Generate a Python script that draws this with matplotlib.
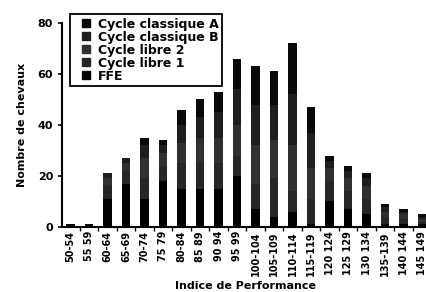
import matplotlib.pyplot as plt
from matplotlib.lines import Line2D
import numpy as np

# classes d'indice de performance
classes = ["50-54", "55 59", "60-64", "65-69", "70-74", "75 79", "80-84", "85 89",
           "90 94", "95 99", "100-104", "105-109", "110-114", "115-119", "120 124",
           "125 129", "130 134", "135-139", "140 144", "145 149"]

# nombre de chevaux par serie (bas -> haut)
ffe = [1, 1, 11, 17, 11, 18, 15, 15, 15, 20, 7, 4, 6, 1, 10, 7, 5, 1, 1, 1]
libre1 = [0, 0, 5, 5, 8, 6, 10, 10, 10, 8, 10, 15, 8, 10, 8, 7, 6, 3, 2, 1]
libre2 = [0, 0, 3, 3, 8, 5, 8, 10, 10, 12, 15, 15, 18, 12, 5, 5, 5, 2, 2, 1]
classiqueB = [0, 0, 2, 2, 5, 3, 7, 8, 10, 14, 16, 14, 20, 14, 3, 3, 3, 2, 1, 1]
classiqueA = [0, 0, 0, 0, 3, 2, 6, 7, 8, 12, 15, 13, 20, 10, 2, 2, 2, 1, 1, 1]

series = [classiqueA, classiqueB, libre2, libre1, ffe]
noms = ["Cycle classique A", "Cycle classique B", "Cycle libre 2", "Cycle libre 1", "FFE"]
couleurs = ["#0a0a0a", "#1e1e1e", "#303030", "#262626", "#000000"]

fig = plt.figure(figsize=(4.26, 2.92), dpi=100)
ax = fig.add_axes([0.146, 0.223, 0.86, 0.698])

x = np.arange(len(classes))
bas = np.zeros(len(classes))
# on empile depuis le bas (FFE) vers le haut
for vals, nom, c in zip(series[::-1], noms[::-1], couleurs[::-1]):
    ax.bar(x, vals, width=0.47, bottom=bas, color=c, label=nom)
    bas = bas + np.array(vals)

ax.set_xlim(-0.45, 19.35)
ax.set_ylim(0, 80)
ax.set_yticks([0, 20, 40, 60, 80])
ax.set_xticks(x)
ax.set_xticklabels(classes, rotation=90, fontsize=7, fontweight="bold")
for t in ax.get_yticklabels():
    t.set_fontweight("bold")
    t.set_fontsize(8)
ax.tick_params(axis="x", length=0, pad=3)
ax.tick_params(axis="y", length=3, width=1.2, direction="out")
ax.set_xticks(x[:-1] + 0.5, minor=True)
ax.tick_params(axis="x", which="minor", length=3, width=1, direction="out")

ax.spines["top"].set_visible(False)
ax.spines["right"].set_visible(False)
ax.spines["left"].set_linewidth(1.5)
ax.spines["bottom"].set_linewidth(1.5)

ax.set_xlabel("Indice de Performance", fontsize=8, fontweight="bold", labelpad=4)
ax.set_ylabel("Nombre de chevaux", fontsize=8, fontweight="bold", labelpad=8)

handles = [Line2D([], [], linestyle="none", marker="s", markersize=6,
                  color=c) for c in couleurs]
leg = ax.legend(handles, noms, loc="upper left", bbox_to_anchor=(0.022, 1.045),
                fancybox=False, framealpha=1, edgecolor="black",
                prop={"size": 9, "weight": "bold"}, handlelength=1.9,
                handletextpad=0.0, labelspacing=0.0,
                borderpad=0.3, borderaxespad=0)
leg.get_frame().set_linewidth(1.3)

fig.savefig("out.png", dpi=100)
